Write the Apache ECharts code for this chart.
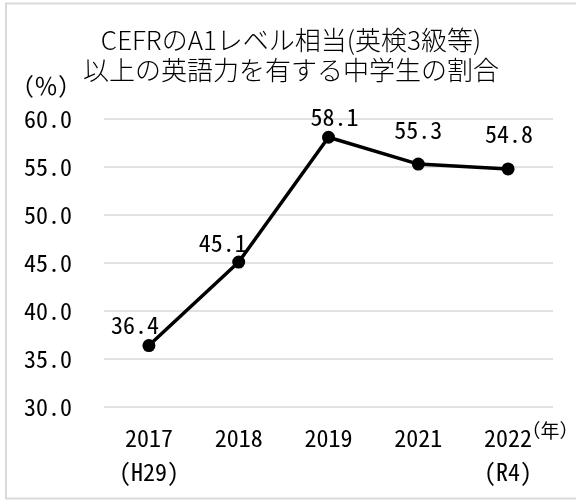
<!DOCTYPE html>
<html>
<head>
<meta charset="utf-8">
<script src="https://cdn.jsdelivr.net/npm/echarts@6/dist/echarts.min.js"></script>
<style>
html,body{margin:0;padding:0;background:#fff;}
#chart{width:576px;height:501px;}
</style>
</head>
<body>
<div id="chart"></div>
<script>
const titleLines = ['CEFRのA1レベル相当(英検3級等)', '以上の英語力を有する中学生の割合'];
const yUnit = '（％）';
const xUnit = '（年）';
const categories = ['2017\n(H29)', '2018', '2019', '2021', '2022\n(R4)'];
const values = [36.4, 45.1, 58.1, 55.3, 54.8];
const yMin = 30, yMax = 60, yStep = 5;

const labelOffsets = [[-14, -21], [-16, -19], [6, -20], [0, -34], [1, -35]];
const monoFont = '"Noto Sans Mono CJK JP", "DejaVu Sans Mono", monospace';
const jpFont = '"Noto Sans CJK JP", "Noto Sans", sans-serif';

const chart = echarts.init(document.getElementById('chart'), null, {renderer: 'canvas'});
chart.setOption({
  backgroundColor: '#fff',
  animation: false,
  grid: {left: 104, right: 23, top: 119, bottom: 94},
  xAxis: {
    type: 'category',
    data: categories,
    boundaryGap: true,
    axisLine: {show: false},
    axisTick: {show: false},
    axisLabel: {
      margin: 14,
      color: '#000',
      fontFamily: monoFont,
      fontSize: 24,
      lineHeight: 34,
      verticalAlign: 'top'
    }
  },
  yAxis: {
    type: 'value',
    min: yMin, max: yMax, interval: yStep,
    axisLine: {show: false},
    axisTick: {show: false},
    splitLine: {lineStyle: {color: '#d9d9d9', width: 1.5}},
    axisLabel: {
      margin: 32,
      color: '#000',
      fontFamily: monoFont,
      fontSize: 24,
      formatter: v => v.toFixed(1)
    }
  },
  series: [{
    type: 'line',
    data: values.map((v, i) => ({
      value: v,
      label: {offset: labelOffsets[i]}
    })),
    symbol: 'circle',
    symbolSize: 13,
    lineStyle: {color: '#000', width: 3.5},
    itemStyle: {color: '#000'},
    label: {
      show: true,
      position: 'inside',
      align: 'center',
      verticalAlign: 'middle',
      color: '#000',
      fontFamily: monoFont,
      fontSize: 24,
      formatter: p => p.value.toFixed(1)
    }
  }],
  graphic: [
    {
      type: 'rect',
      shape: {x: 6, y: 3.5, width: 620, height: 495},
      style: {fill: 'none', stroke: '#d9d9d9', lineWidth: 2},
      silent: true
    },
    {
      type: 'text',
      x: 291, y: 25,
      style: {
        text: titleLines.join('\n'),
        fontFamily: jpFont,
        fontSize: 26,
        fontWeight: 300,
        lineHeight: 30,
        fill: '#000',
        textAlign: 'center',
        textVerticalAlign: 'top'
      }
    },
    {
      type: 'text',
      x: 46, y: 86,
      style: {
        text: yUnit,
        fontFamily: jpFont,
        fontSize: 24,
        fill: '#000',
        textAlign: 'center',
        textVerticalAlign: 'middle'
      }
    },
    {
      type: 'text',
      x: 550, y: 431,
      style: {
        text: xUnit,
        fontFamily: jpFont,
        fontSize: 19,
        fill: '#000',
        textAlign: 'center',
        textVerticalAlign: 'middle'
      }
    }
  ]
});
</script>
</body>
</html>
